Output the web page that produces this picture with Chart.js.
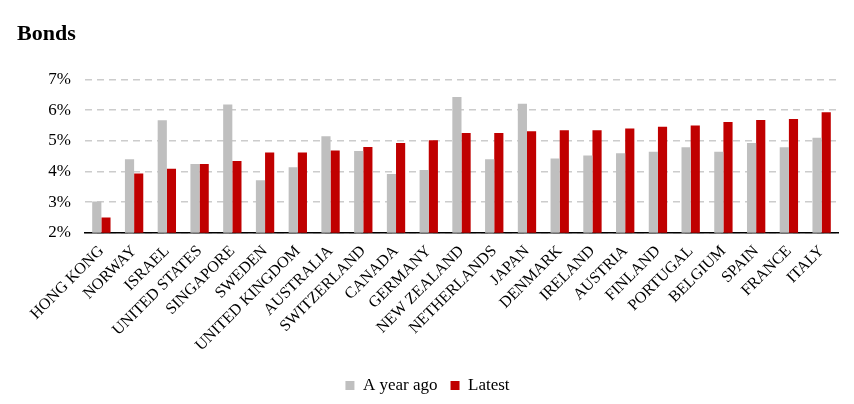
<!DOCTYPE html>
<html>
<head>
<meta charset="utf-8">
<script src="https://cdn.jsdelivr.net/npm/chart.js@4"></script>
<style>
  html, body { margin: 0; padding: 0; background: #fff; }
  #wrap { width: 854px; height: 404px; }
</style>
</head>
<body>
<div id="wrap"><canvas id="myChart" width="854" height="404"></canvas></div>
<script>
const countries = ['HONG KONG', 'NORWAY', 'ISRAEL', 'UNITED STATES', 'SINGAPORE', 'SWEDEN',
                   'UNITED KINGDOM', 'AUSTRALIA', 'SWITZERLAND', 'CANADA', 'GERMANY',
                   'NEW ZEALAND', 'NETHERLANDS', 'JAPAN', 'DENMARK', 'IRELAND', 'AUSTRIA',
                   'FINLAND', 'PORTUGAL', 'BELGIUM', 'SPAIN', 'FRANCE', 'ITALY'];
const yearAgo = [3.02, 4.40, 5.67, 4.24, 6.18, 3.71, 4.14, 5.15, 4.67, 3.92, 4.05,
                 6.43, 4.40, 6.21, 4.42, 4.52, 4.59, 4.64, 4.79, 4.64, 4.93, 4.79, 5.10];
const latest = [2.50, 3.93, 4.09, 4.24, 4.34, 4.62, 4.62, 4.68, 4.80, 4.93, 5.02,
                5.25, 5.25, 5.31, 5.34, 5.34, 5.40, 5.46, 5.50, 5.61, 5.68, 5.71, 5.93];
const yTicks = [2, 3, 4, 5, 6, 7];

const serif = "'Liberation Serif', 'Times New Roman', serif";
const ctx = document.getElementById('myChart');

new Chart(ctx, {
    type: 'bar',
    data: {
        labels: countries,
        datasets: [{
            label: 'A year ago',
            data: yearAgo,
            backgroundColor: '#bfbfbf',
            barPercentage: 1,
            categoryPercentage: 0.56
        }, {
            label: 'Latest',
            data: latest,
            backgroundColor: '#c00000',
            barPercentage: 1,
            categoryPercentage: 0.56
        }]
    },
    options: {
        responsive: false,
        animation: false,
        layout: {
            padding: { left: 17, right: 16, top: 0, bottom: 0 }
        },
        scales: {
            x: {
                grid: { display: false, drawTicks: false },
                border: { display: true, color: '#000', width: 1.5 },
                ticks: {
                    color: '#000',
                    maxRotation: 45,
                    minRotation: 45,
                    autoSkip: false,
                    padding: 9,
                    font: { family: serif, size: 16 }
                }
            },
            y: {
                min: 2,
                max: 7,
                afterFit: (scale) => { scale.width = 68; },
                afterBuildTicks: (scale) => {
                    scale.ticks = yTicks.map(v => ({ value: v }));
                },
                border: { display: false, dash: [7, 5] },
                grid: {
                    color: '#cccccc',
                    lineWidth: 1.6,
                    drawTicks: false
                },
                ticks: {
                    color: '#000',
                    padding: 14,
                    font: { family: serif, size: 17 },
                    callback: (v) => v + '%'
                }
            }
        },
        plugins: {
            title: {
                display: true,
                text: 'Bonds',
                align: 'start',
                color: '#000',
                padding: { top: 21, bottom: 32 },
                font: { family: serif, size: 22, weight: 'bold' }
            },
            legend: {
                position: 'bottom',
                labels: {
                    color: '#000',
                    boxWidth: 9,
                    boxHeight: 9,
                    padding: 13,
                    font: { family: serif, size: 17 }
                }
            },
            tooltip: { enabled: false }
        }
    }
});
</script>
</body>
</html>
